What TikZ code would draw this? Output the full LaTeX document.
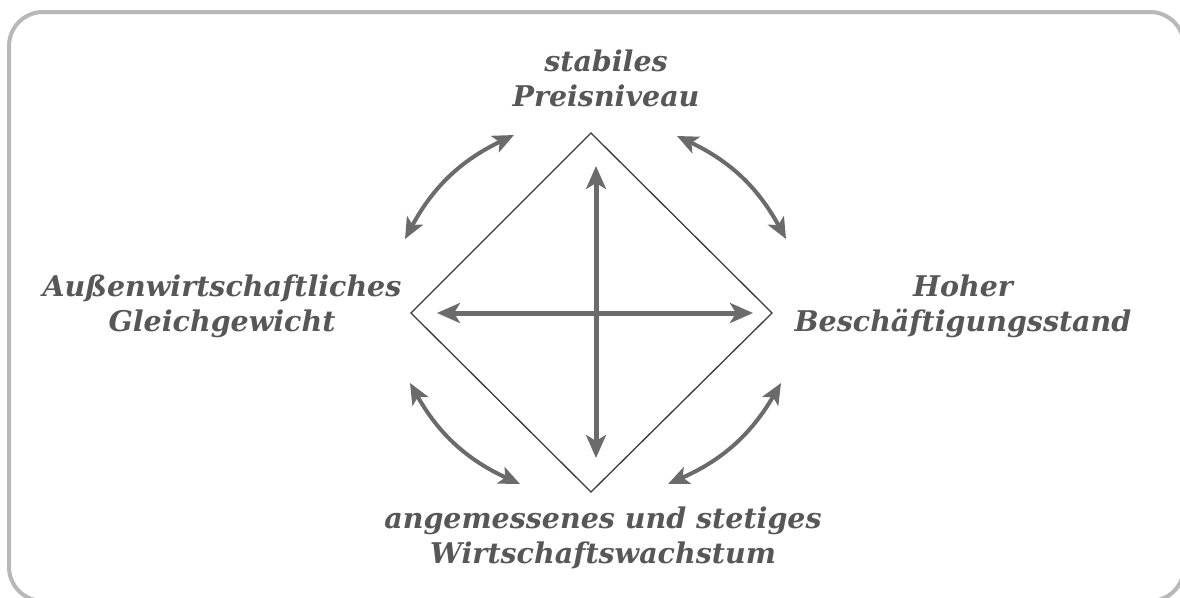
\documentclass[tikz,border=0pt]{standalone}
\usepackage{fontspec}
\setmainfont{DejaVu Serif}
\usetikzlibrary{arrows.meta}
\definecolor{txtgray}{HTML}{575757}
\definecolor{arrgray}{HTML}{6B6B6B}
\definecolor{framegray}{HTML}{B8B8B8}
\definecolor{diagline}{HTML}{3A3A3A}
\tikzset{
  lbl/.style={font=\bfseries\itshape\fontsize{28.5}{35}\selectfont, text=txtgray, align=center, inner sep=0pt},
  bigarrow/.style={draw=arrgray, line width=5pt, {Stealth[length=23pt,width=20pt,inset=6pt]}-{Stealth[length=23pt,width=20pt,inset=6pt]}},
  curvarrow/.style={draw=arrgray, line width=4pt, {Stealth[length=21pt,width=18pt,inset=5pt]}-{Stealth[length=21pt,width=18pt,inset=5pt]}},
}
\begin{document}
\begin{tikzpicture}[x=1pt,y=-1pt]
\useasboundingbox (0,0) rectangle (1180,597);
\fill[white] (0,0) rectangle (1180,597);
\draw[framegray, line width=4pt, rounded corners=34pt] (9,12) rectangle (1184,601);

% diamond
\coordinate (T) at (591,133);
\coordinate (L) at (411,313);
\coordinate (R) at (772,313);
\coordinate (B) at (591,492);
\draw[diagline, line width=1.3pt] (T) -- (R) -- (B) -- (L) -- cycle;

% cross arrows
\coordinate (vt) at (596,166);
\coordinate (vb) at (596,458);
\coordinate (hl) at (437,313);
\coordinate (hr) at (753,313);
\draw[bigarrow] (vb) -- (vt);
\draw[bigarrow] (hl) -- (hr);

% labels
\node[lbl] (top) at (606,78) {stabiles\\Preisniveau};
\node[lbl] (left) at (222,306) {Außenwirtschaftliches\\Gleichgewicht};
\node[lbl] (right) at (963,306) {Hoher\\Beschäftigungsstand};
\node[lbl] (bottom) at (603,538) {angemessenes und stetiges\\Wirtschaftswachstum};

% curved arrows
\coordinate (a1) at (405,239);
\coordinate (a2) at (514,135);
\coordinate (b1) at (677,136);
\coordinate (b2) at (786,239);
\coordinate (c1) at (410,383);
\coordinate (c2) at (520,484);
\coordinate (d1) at (781,383);
\coordinate (d2) at (668,484);
\draw[curvarrow] (a1) to[bend left=18] (a2);
\draw[curvarrow] (b1) to[bend left=18] (b2);
\draw[curvarrow] (c1) to[bend right=18] (c2);
\draw[curvarrow] (d1) to[bend left=18] (d2);
\end{tikzpicture}
\end{document}
